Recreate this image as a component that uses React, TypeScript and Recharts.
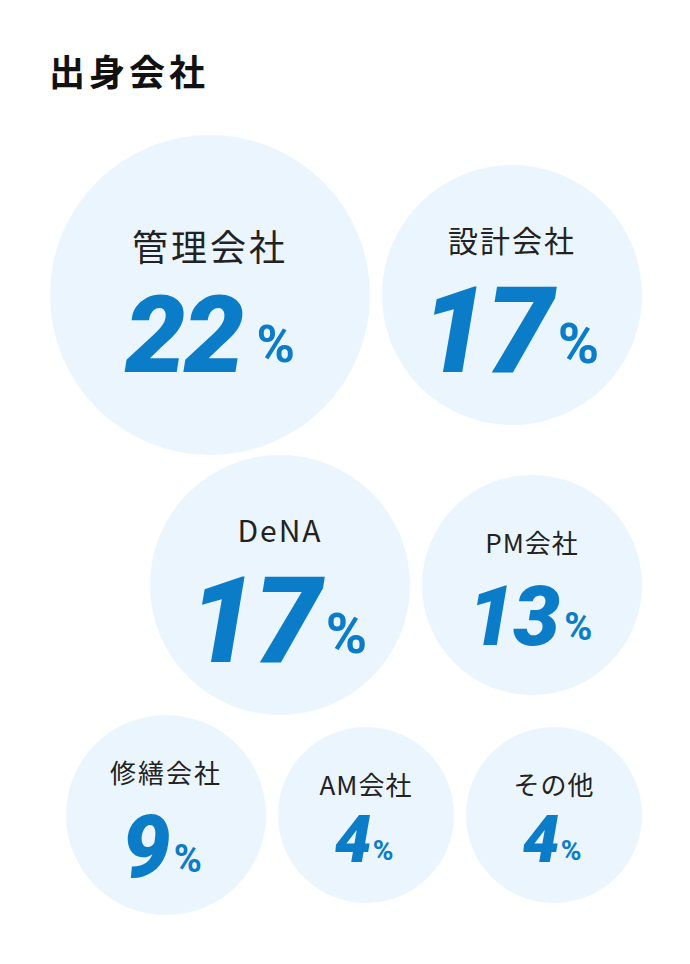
import { ScatterChart, Scatter, XAxis, YAxis } from "recharts";

// 出身会社の割合 (%)
const categories = ["管理会社", "設計会社", "DeNA", "PM会社", "修繕会社", "AM会社", "その他"];
const shares = [22, 17, 17, 13, 9, 4, 4];

// bubble layout (chart units, 0..690 x 0..964)
const layoutX = [210, 512, 280, 532, 166, 366, 554];
const layoutY = [295, 295, 585, 585, 815, 815, 815];

const W = 690;
const H = 964;
const BUBBLE = "#eaf5fe";
const BLUE = "#0a7cc8";

const data = categories.map((name, i) => ({
  name,
  value: shares[i],
  x: layoutX[i],
  y: layoutY[i],
}));

// size/typography tier per value
function tier(v: number) {
  if (v >= 20) return { r: 160, label: 36, ls: 3, labelDy: -50, num: 108, pct: 52, numDy: 77, pctDy: 67, gap: 14, dx: 0 };
  if (v >= 15) return { r: 130, label: 30, ls: 2, labelDy: -56, num: 120, pct: 56, numDy: 77, pctDy: 68, gap: 6, dx: -2 };
  if (v >= 12) return { r: 110, label: 26, ls: 1, labelDy: -44, num: 84, pct: 38, numDy: 60, pctDy: 55, gap: 6, dx: -2 };
  if (v >= 8) return { r: 100, label: 26, ls: 2, labelDy: -44, num: 86, pct: 38, numDy: 62, pctDy: 57, gap: 5, dx: -4 };
  return { r: 88, label: 26, ls: 1, labelDy: -32, num: 66, pct: 28, numDy: 47, pctDy: 45, gap: 3, dx: -2 };
}

function Bubble(props: any) {
  const { cx, cy, payload } = props;
  const t = tier(payload.value);
  return (
    <g>
      <circle cx={cx} cy={cy} r={t.r} fill={BUBBLE} />
      <text
        x={cx}
        y={cy + t.labelDy}
        textAnchor="middle"
        dominantBaseline="central"
        fontFamily="'Noto Sans CJK JP', 'Noto Sans', sans-serif"
        fontSize={t.label}
        letterSpacing={t.ls}
        fill="#222"
      >
        {payload.name}
      </text>
      <text
        x={cx + t.dx}
        y={cy + t.numDy}
        textAnchor="middle"
        fontFamily="Roboto, Lato, sans-serif"
        fontWeight={900}
        fontStyle="italic"
        fill={BLUE}
      >
        <tspan fontSize={t.num} letterSpacing={-2}>{payload.value}</tspan>
        <tspan fontSize={t.pct} dx={t.gap} dy={t.pctDy - t.numDy} fontStyle="normal" fontWeight={700}>%</tspan>
      </text>
    </g>
  );
}

export default function App() {
  return (
    <div style={{ position: "absolute", left: 0, top: 0, width: W, height: H, background: "#fff" }}>
      <div
        style={{
          position: "absolute",
          left: 49,
          top: 48,
          fontFamily: "'Noto Sans CJK JP', sans-serif",
          fontWeight: 700,
          fontSize: 36,
          letterSpacing: 4,
          color: "#111",
          lineHeight: "44px",
        }}
      >
        出身会社
      </div>
      <ScatterChart width={W} height={H} margin={{ top: 0, right: 0, bottom: 0, left: 0 }}>
        <XAxis type="number" dataKey="x" domain={[0, W]} hide />
        <YAxis type="number" dataKey="y" domain={[0, H]} reversed hide />
        <Scatter data={data} shape={<Bubble />} isAnimationActive={false} />
      </ScatterChart>
    </div>
  );
}
